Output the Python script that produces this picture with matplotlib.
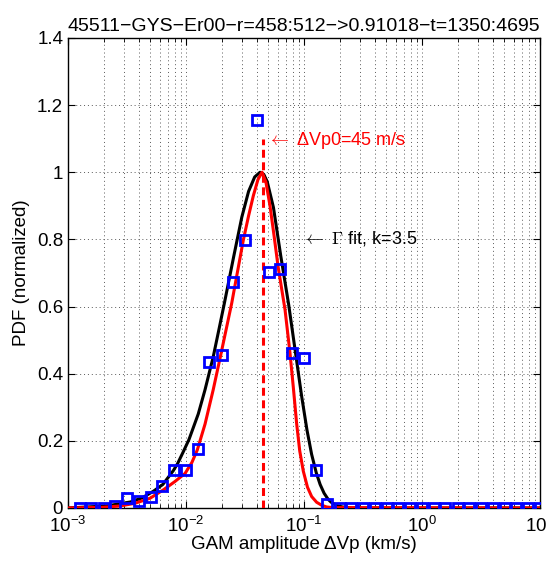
import numpy as np
import matplotlib
matplotlib.use("Agg")
import matplotlib.pyplot as plt

plt.rcParams['font.family'] = ['Liberation Sans', 'DejaVu Sans']
plt.rcParams['mathtext.fontset'] = 'custom'
plt.rcParams['mathtext.rm'] = 'Liberation Sans'
plt.rcParams['mathtext.it'] = 'Liberation Sans:italic'

# histogram of GAM amplitude (bin centres in km/s, normalized PDF)
bin_x = [0.00126, 0.00158, 0.002, 0.00251, 0.00316, 0.00398, 0.00501, 0.00631,
         0.00794, 0.01, 0.0126, 0.0158, 0.02, 0.0251, 0.0316, 0.0398, 0.0501,
         0.0631, 0.0794, 0.1, 0.126, 0.158, 0.2, 0.251, 0.316, 0.398, 0.501,
         0.631, 0.794, 1.0, 1.26, 1.58, 2.0, 2.51, 3.16, 3.98, 5.01, 6.31, 7.94, 10.0]
bin_pdf = [0.0, 0.0, 0.0, 0.007, 0.029, 0.021, 0.034, 0.066, 0.112, 0.112,
           0.175, 0.436, 0.456, 0.673, 0.798, 1.156, 0.704, 0.712, 0.461, 0.448,
           0.113, 0.011, 0, 0, 0, 0, 0, 0, 0, 0, 0, 0, 0, 0, 0, 0, 0, 0, 0, 0]

# gamma fit k=3.5 (black)
gam_x = [0.001, 0.00212, 0.00339, 0.00424, 0.00530, 0.00636, 0.0078, 0.00848,
         0.0095, 0.0106, 0.0127, 0.01449, 0.0170, 0.0191, 0.0212, 0.0254, 0.0297,
         0.0339, 0.0382, 0.0424, 0.0456, 0.0488, 0.0551, 0.0636, 0.0742, 0.0848,
         0.0954, 0.106, 0.116, 0.127, 0.137, 0.148, 0.160, 0.170, 0.191, 0.212,
         0.254, 10.0]
gam_y = [0.0, 0.006, 0.018, 0.030, 0.050, 0.070, 0.111, 0.132,
         0.168, 0.204, 0.280, 0.352, 0.450, 0.535, 0.612, 0.750, 0.866,
         0.943, 0.986, 1.0, 0.994, 0.972, 0.895, 0.750, 0.605, 0.461,
         0.334, 0.232, 0.160, 0.105, 0.070, 0.044, 0.026, 0.017, 0.007, 0.003,
         0.0, 0.0]

# narrower fit (red)
red_x = [0.001, 0.002, 0.00276, 0.0037, 0.00496, 0.00643, 0.0080, 0.00982,
         0.0112, 0.01247, 0.0145, 0.0170, 0.0197, 0.0244, 0.0306, 0.0339, 0.0372,
         0.0407, 0.0441, 0.0476, 0.0515, 0.0558, 0.0603, 0.0691, 0.0761, 0.0811,
         0.0867, 0.092, 0.0986, 0.107, 0.1161, 0.128, 0.1413, 0.1556, 0.175, 10.0]
red_y = [0.0, 0.002, 0.006, 0.014, 0.029, 0.054, 0.078, 0.103,
         0.135, 0.173, 0.250, 0.352, 0.456, 0.610, 0.798, 0.870, 0.930,
         0.978, 1.0, 0.970, 0.900, 0.810, 0.719, 0.590, 0.461, 0.361,
         0.250, 0.170, 0.110, 0.062, 0.034, 0.017, 0.008, 0.003, 0.001, 0.0]

dvp0 = 0.045  # km/s

fig = plt.figure(figsize=(5.48, 5.67), dpi=100)
ax = fig.add_axes([0.1241, 0.1041, 0.8613, 0.8289])

ax.plot(gam_x, gam_y, color='black', lw=2.2, zorder=3, solid_joinstyle='round')
ax.plot(red_x, red_y, color='red', lw=2.2, zorder=4, solid_joinstyle='round')
ax.plot([dvp0, dvp0], [0, 1.1], color='red', lw=2.2, ls=(0, (2.6, 1.5)), zorder=4)
ax.plot(bin_x, bin_pdf, ls='none', marker='s', ms=6.5, mfc='none', mec='blue',
        mew=2.0, zorder=5)

ax.text(0.0488, 1.096, '$\\leftarrow$ \u0394Vp0=45 m/s', color='red', fontsize=13,
        va='center', ha='left', math_fontfamily='cm')
ax.text(0.096, 0.804, '$\\leftarrow$ $\\Gamma$ fit, k=3.5', color='black', fontsize=13,
        va='center', ha='left', math_fontfamily='cm')

ax.set_xscale('log')
ax.set_xlim(1e-3, 10)
ax.set_ylim(0, 1.4)
ax.set_yticks([0, 0.2, 0.4, 0.6, 0.8, 1.0, 1.2, 1.4])
ax.set_yticklabels(['0', '0.2', '0.4', '0.6', '0.8', '1', '1.2', '1.4'])

ax.grid(True, which='major', color='0.35', lw=0.7, ls=(0, (1, 3)))
ax.grid(True, which='minor', axis='x', color='0.35', lw=0.7, ls=(0, (1, 3)))
ax.tick_params(which='both', direction='in', top=True, right=True, labelsize=13.5)
ax.tick_params(which='major', length=5)
ax.tick_params(which='minor', length=3)
ax.tick_params(axis='x', pad=6)
for s in ax.spines.values():
    s.set_linewidth(1.0)

ax.set_title('45511\u2212GYS\u2212Er00\u2212r=458:512\u2212>0.91018\u2212t=1350:4695',
             fontsize=14, pad=5)
ax.set_xlabel('GAM amplitude \u0394Vp (km/s)', fontsize=13.5, labelpad=0)
ax.set_ylabel('PDF (normalized)', fontsize=13.5, labelpad=5)

fig.savefig('out.png', dpi=100)
